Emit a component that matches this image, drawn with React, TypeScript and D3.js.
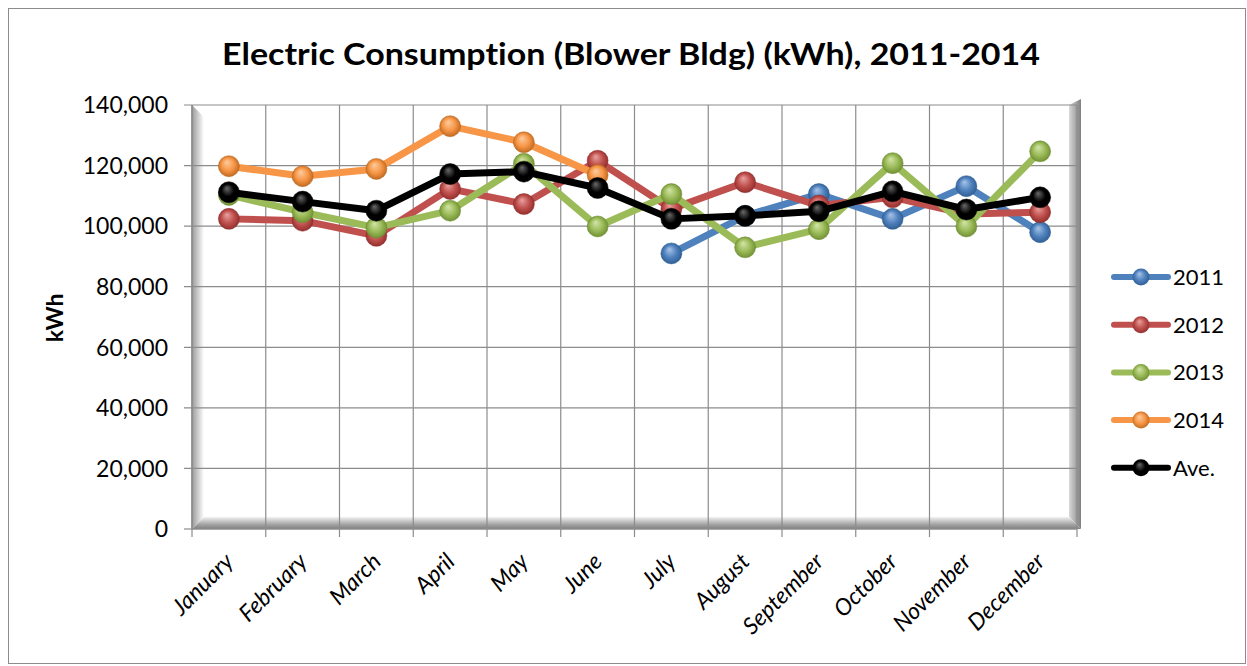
import React from "react";
import * as d3 from "d3";

const months = ["January", "February", "March", "April", "May", "June", "July", "August", "September", "October", "November", "December"];
const y2011 = [null, null, null, null, null, null, 91000, 103400, 110600, 102400, 113200, 98000];
const y2012 = [102400, 101800, 96800, 112300, 107300, 121600, 105700, 114500, 106800, 109500, 104000, 104600];
const y2013 = [110300, 104600, 99500, 105100, 120600, 99900, 110600, 93000, 99000, 120800, 99900, 124700];
const y2014 = [119800, 116500, 118900, 133000, 127700, 116900, null, null, null, null, null, null];
const yAve = [111200, 108100, 105100, 117200, 118000, 112600, 102400, 103400, 104900, 111500, 105500, 109500];
const yTicks = [0, 20000, 40000, 60000, 80000, 100000, 120000, 140000];

const seriesList = [
  { name: "2011", values: y2011, color: "#4f81bd", light: "#a9c4e8", dark: "#2c5a8f" },
  { name: "2012", values: y2012, color: "#c0504d", light: "#e8a3a1", dark: "#8c2b29" },
  { name: "2013", values: y2013, color: "#9bbb59", light: "#d2e5a8", dark: "#6a8a2e" },
  { name: "2014", values: y2014, color: "#f79646", light: "#fccda0", dark: "#b8641c" },
  { name: "Ave.", values: yAve, color: "#000000", light: "#6a6a6a", dark: "#000000" },
];

const W = 1247;
const H = 666;
const left = 192;
const right = 1077;
const top = 105;
const bottom = 529;
const font = "Lato, 'Open Sans', sans-serif";

export default function App() {
  const x = d3.scaleBand().domain(months).range([left, right]);
  const y = d3.scaleLinear().domain([0, 140000]).range([bottom, top]);
  const fmt = d3.format(",");
  const line = d3
    .line<number | null>()
    .defined((d) => d != null)
    .x((_, i) => (x(months[i]) as number) + x.bandwidth() / 2)
    .y((d) => y(d as number));
  const edges = d3.range(months.length + 1).map((i) => left + i * x.step());

  return (
    <svg width={W} height={H} style={{ display: "block", position: "absolute", left: 0, top: 0, fontVariantLigatures: "none" }}>
      <defs>
        {seriesList.map((s) => (
          <radialGradient key={s.name} id={"g" + s.name.replace(".", "")} cx="50%" cy="50%" r="55%" fx="40%" fy="30%">
            <stop offset="0%" stopColor={s.light} />
            <stop offset="55%" stopColor={s.color} />
            <stop offset="100%" stopColor={s.dark} />
          </radialGradient>
        ))}
        <linearGradient id="wallL" x1="0" x2="1" y1="0" y2="0">
          <stop offset="0%" stopColor="#9a9a9a" />
          <stop offset="100%" stopColor="#ffffff" />
        </linearGradient>
        <linearGradient id="floor" x1="0" x2="0" y1="0" y2="1">
          <stop offset="0%" stopColor="#f2f2f2" />
          <stop offset="60%" stopColor="#a6a6a6" />
          <stop offset="100%" stopColor="#7f7f7f" />
        </linearGradient>
        <linearGradient id="wallR" x1="0" x2="1" y1="0" y2="0">
          <stop offset="0%" stopColor="#d9d9d9" />
          <stop offset="100%" stopColor="#7f7f7f" />
        </linearGradient>
      </defs>
      <rect x={8.5} y={8.5} width={1237} height={655} fill="#fff" stroke="#8c8c8c" />
      <text x={631} y={65} textAnchor="middle" fontFamily={font} fontWeight="bold" fontSize={31} textLength={818} lengthAdjust="spacingAndGlyphs">
        Electric Consumption (Blower Bldg) (kWh), 2011-2014
      </text>

      {/* plot area bevel */}
      <rect x={left} y={top} width={right - left} height={bottom - top} fill="#fff" />
      <path d={`M${left},${top} L${left + 12},${top + 12} L${left + 12},${bottom - 12} L${left},${bottom} Z`} fill="url(#wallL)" />
      <path d={`M${right - 8},${top} L${right + 4},${top - 6} L${right + 4},${bottom} L${right - 8},${bottom - 12} Z`} fill="url(#wallR)" />
      <path d={`M${left},${bottom} L${left + 12},${bottom - 12} L${right - 8},${bottom - 12} L${right + 4},${bottom} Z`} fill="url(#floor)" />

      {yTicks.map((t) => (
        <g key={t}>
          <line x1={left - 8} x2={t === 0 ? left : right} y1={y(t)} y2={y(t)} stroke="#8c8c8c" strokeWidth={1.2} />
          <text x={168} y={y(t)} dy="0.36em" textAnchor="end" fontFamily={font} fontSize={23}>
            {fmt(t)}
          </text>
        </g>
      ))}
      {edges.map((e, i) => (
        <line key={i} x1={e} x2={e} y1={top} y2={bottom + 8} stroke="#8c8c8c" strokeWidth={1.2} />
      ))}
      <line x1={left} x2={left} y1={top} y2={bottom} stroke="#8c8c8c" strokeWidth={1.5} />
      <line x1={left} x2={right} y1={bottom} y2={bottom} stroke="#8c8c8c" strokeWidth={1.5} />

      <text transform={`translate(63,318) rotate(-90)`} textAnchor="middle" fontFamily={font} fontWeight="bold" fontSize={23}>
        kWh
      </text>

      {months.map((m) => {
        const cx = (x(m) as number) + x.bandwidth() / 2 + 6;
        return (
          <text key={m} transform={`translate(${cx},${bottom + 34}) rotate(-45)`} textAnchor="end" fontFamily={font} fontStyle="italic" fontSize={23}>
            {m}
          </text>
        );
      })}

      {seriesList.map((s) => (
        <g key={s.name}>
          <path d={line(s.values) || ""} fill="none" stroke={s.color} strokeWidth={7} strokeLinejoin="round" />
          {s.values.map((v, i) =>
            v == null ? null : (
              <circle
                key={i}
                cx={(x(months[i]) as number) + x.bandwidth() / 2}
                cy={y(v)}
                r={10.5}
                fill={`url(#g${s.name.replace(".", "")})`}
                stroke={s.dark}
                strokeOpacity={0.5}
              />
            )
          )}
        </g>
      ))}

      {seriesList.map((s, i) => {
        const ly = 277 + i * 47.7;
        return (
          <g key={s.name}>
            <line x1={1114} x2={1168} y1={ly} y2={ly} stroke={s.color} strokeWidth={6} strokeLinecap="round" />
            <circle cx={1141} cy={ly} r={8.5} fill={`url(#g${s.name.replace(".", "")})`} />
            <text x={1173} y={ly} dy="0.36em" fontFamily={font} fontSize={22}>
              {s.name}
            </text>
          </g>
        );
      })}
    </svg>
  );
}
